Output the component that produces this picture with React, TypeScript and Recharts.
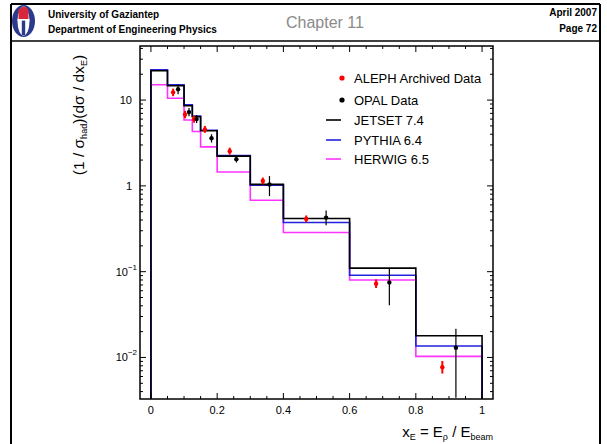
import React from "react";
import { ComposedChart, Line, Scatter, ErrorBar, XAxis, YAxis } from "recharts";

// histogram bin edges (x_E) and bin contents per generator
const EDGES = [0, 0.05, 0.1, 0.125, 0.15, 0.2, 0.3, 0.4, 0.6, 0.8, 1.0];
const JETSET = [22, 14.7, 8.6, 6.4, 4.4, 2.22, 1.04, 0.417, 0.11, 0.0179];
const PYTHIA = [22.5, 15.1, 8.8, 6.5, 4.45, 2.25, 1.02, 0.374, 0.0908, 0.0136];
const HERWIG = [15.1, 10.5, 5.85, 4.3, 2.85, 1.45, 0.68, 0.286, 0.08, 0.0103];

// measured points
const ALEPH_X = [0.067, 0.103, 0.13, 0.163, 0.238, 0.338, 0.469, 0.68, 0.88];
const ALEPH_Y = [12.3, 6.8, 6.0, 4.55, 2.54, 1.14, 0.412, 0.0724, 0.0077];
const ALEPH_ERR = [[1.2, 1.3], [0.65, 0.7], [0.55, 0.6], [0.4, 0.45], [0.22, 0.25], [0.1, 0.11], [0.035, 0.04], [0.008, 0.009], [0.0012, 0.0014]];

const OPAL_X = [0.082, 0.115, 0.138, 0.183, 0.258, 0.358, 0.529, 0.72, 0.921];
const OPAL_Y = [13.4, 7.24, 6.0, 3.6, 2.05, 1.04, 0.427, 0.075, 0.013];
const OPAL_ERR = [[1.7, 1.9], [0.74, 0.86], [0.6, 0.7], [0.4, 0.4], [0.18, 0.2], [0.28, 0.26], [0.079, 0.089], [0.0345, 0.033], [0.0096, 0.0086]];

// axes
const X_DOMAIN = [-0.033, 1.033];
const Y_DOMAIN = [0.00328, 42.7];
const X_TICKS = [0, 0.05, 0.1, 0.15, 0.2, 0.25, 0.3, 0.35, 0.4, 0.45, 0.5, 0.55, 0.6, 0.65, 0.7, 0.75, 0.8, 0.85, 0.9, 0.95, 1];
const X_MAJOR = [0, 0.2, 0.4, 0.6, 0.8, 1];
const X_LABELS = ["0", "0.2", "0.4", "0.6", "0.8", "1"];
const Y_MAJOR = [0.01, 0.1, 1, 10];
const Y_LABELS: [string, string][] = [["10", "\u22122"], ["10", "\u22121"], ["1", ""], ["10", ""]];

const Y_TICKS: number[] = [];
[0.001, 0.01, 0.1, 1, 10].forEach((d) => {
  for (let m = 1; m < 10; m++) {
    const v = +(d * m).toPrecision(3);
    if (v >= Y_DOMAIN[0] && v <= Y_DOMAIN[1]) Y_TICKS.push(v);
  }
});

const PLOT = { left: 140, top: 46, right: 493, bottom: 399 };
const FONT = "'Liberation Sans', Arial, sans-serif";

const histo = (vals: number[]) => {
  const pts = [{ x: EDGES[0], y: Y_DOMAIN[0] }];
  vals.forEach((v, i) => pts.push({ x: EDGES[i], y: v }));
  pts.push({ x: EDGES[EDGES.length - 1], y: vals[vals.length - 1] });
  pts.push({ x: EDGES[EDGES.length - 1], y: Y_DOMAIN[0] });
  return pts;
};

const points = (xs: number[], ys: number[], errs: number[][]) =>
  xs.map((x, i) => ({ x, y: ys[i], err: errs[i] }));

const SERIES = [
  { name: "HERWIG 6.5", vals: HERWIG, color: "#ff33ff" },
  { name: "PYTHIA 6.4", vals: PYTHIA, color: "#2222dd" },
  { name: "JETSET 7.4", vals: JETSET, color: "#000000" },
];

const XTick = ({ x, payload }: any) => {
  const v = payload.value;
  const idx = X_MAJOR.findIndex((m) => Math.abs(m - v) < 1e-6);
  const len = idx >= 0 ? 6 : 3;
  return (
    <g>
      <line x1={x} x2={x} y1={PLOT.bottom} y2={PLOT.bottom - len} stroke="#000" />
      <line x1={x} x2={x} y1={PLOT.top} y2={PLOT.top + len} stroke="#000" />
      {idx >= 0 && (
        <text x={x} y={PLOT.bottom + 15} textAnchor="middle" fontSize={11} fontFamily={FONT} fill="#000">
          {X_LABELS[idx]}
        </text>
      )}
    </g>
  );
};

const YTick = ({ y, payload }: any) => {
  const v = payload.value;
  const idx = Y_MAJOR.findIndex((m) => Math.abs(m - v) / m < 1e-6);
  const len = idx >= 0 ? 6 : 3;
  const lab = idx >= 0 ? Y_LABELS[idx] : null;
  return (
    <g>
      <line x1={PLOT.left} x2={PLOT.left + len} y1={y} y2={y} stroke="#000" />
      <line x1={PLOT.right} x2={PLOT.right - len} y1={y} y2={y} stroke="#000" />
      {lab && (
        <text x={lab[1] ? 137 : 132} y={y + 4} textAnchor="end" fontSize={11} fontFamily={FONT} fill="#000">
          {lab[0]}
          {lab[1] && <tspan dy={-6} fontSize={8}>{lab[1]}</tspan>}
        </text>
      )}
    </g>
  );
};

const dot = (color: string) => (p: any) => <circle cx={p.cx} cy={p.cy} r={2.2} fill={color} />;

const Logo = () => (
  <g>
    <ellipse cx={23.5} cy={21} rx={11.5} ry={16} fill="#2b3a8c" />
    <ellipse cx={23.5} cy={21} rx={6} ry={14.5} fill="#fff" />
    <path d="M18.5 10 Q23.5 3 28.5 10 L28.5 19 L18.5 19 Z" fill="#d6283a" />
    <rect x={21.8} y={20} width={3.4} height={15} fill="#2b3a8c" />
    <rect x={17.5} y={19} width={12} height={1.6} fill="#fff" />
  </g>
);

const LEG_ROWS = [
  { kind: "dot", color: "#ff0000", text: "ALEPH Archived Data", y: 78 },
  { kind: "dot", color: "#000000", text: "OPAL Data", y: 100 },
  { kind: "line", color: "#000000", text: "JETSET 7.4", y: 120 },
  { kind: "line", color: "#2222dd", text: "PYTHIA 6.4", y: 140 },
  { kind: "line", color: "#ff33ff", text: "HERWIG 6.5", y: 159 },
];

export default function App() {
  return (
    <div style={{ position: "absolute", left: 0, top: 0, width: 607, height: 444, background: "#fff" }}>
      <ComposedChart width={607} height={444} margin={{ top: PLOT.top, right: 607 - PLOT.right, bottom: 0, left: 0 }}>
        <XAxis
          type="number"
          dataKey="x"
          domain={X_DOMAIN}
          allowDataOverflow
          ticks={X_TICKS}
          interval={0}
          height={444 - PLOT.bottom}
          axisLine={false}
          tickLine={false}
          tick={<XTick />}
        />
        <YAxis
          type="number"
          dataKey="y"
          scale="log"
          domain={Y_DOMAIN}
          allowDataOverflow
          ticks={Y_TICKS}
          interval={0}
          width={PLOT.left}
          axisLine={false}
          tickLine={false}
          tick={<YTick />}
        />
        {SERIES.map((s) => (
          <Line
            key={s.name}
            data={histo(s.vals)}
            dataKey="y"
            type="stepAfter"
            stroke={s.color}
            strokeWidth={1.6}
            dot={false}
            activeDot={false}
            isAnimationActive={false}
          />
        ))}
        <Scatter data={points(ALEPH_X, ALEPH_Y, ALEPH_ERR)} dataKey="y" shape={dot("#ff0000")} isAnimationActive={false}>
          <ErrorBar dataKey="err" direction="y" width={0} stroke="#ff0000" strokeWidth={2} isAnimationActive={false} />
        </Scatter>
        <Scatter data={points(OPAL_X, OPAL_Y, OPAL_ERR)} dataKey="y" shape={dot("#000000")} isAnimationActive={false}>
          <ErrorBar dataKey="err" direction="y" width={0} stroke="#000000" strokeWidth={1.2} isAnimationActive={false} />
        </Scatter>
      </ComposedChart>

      <svg width={607} height={444} style={{ position: "absolute", left: 0, top: 0, pointerEvents: "none" }}>
        {/* slide frame and header */}
        <line x1={11} x2={11} y1={4} y2={444} stroke="#000" strokeWidth={2} />
        <line x1={600} x2={600} y1={4} y2={444} stroke="#000" strokeWidth={2} />
        <line x1={11} x2={600} y1={4} y2={4} stroke="#000" strokeWidth={2} />
        <line x1={11} x2={600} y1={41} y2={41} stroke="#000" strokeWidth={1.5} />
        <Logo />
        <text x={48} y={18} fontSize={10} fontWeight="bold" fontFamily={FONT}>University of Gaziantep</text>
        <text x={48} y={33} fontSize={10} fontWeight="bold" fontFamily={FONT}>Department of Engineering Physics</text>
        <text x={325} y={28} fontSize={16} textAnchor="middle" fill="#8a8a8a" fontFamily={FONT}>Chapter 11</text>
        <text x={597} y={16} fontSize={10} fontWeight="bold" textAnchor="end" fontFamily={FONT}>April 2007</text>
        <text x={597} y={32} fontSize={10} fontWeight="bold" textAnchor="end" fontFamily={FONT}>Page 72</text>

        {/* plot frame */}
        <rect x={PLOT.left} y={PLOT.top} width={PLOT.right - PLOT.left} height={PLOT.bottom - PLOT.top} fill="none" stroke="#000" strokeWidth={1.5} />

        {/* legend */}
        {LEG_ROWS.map((r) => (
          <g key={r.text}>
            {r.kind === "dot" ? (
              <circle cx={342} cy={r.y} r={2.6} fill={r.color} />
            ) : (
              <line x1={326} x2={341} y1={r.y} y2={r.y} stroke={r.color} strokeWidth={1.6} />
            )}
            <text x={354} y={r.y + 4.5} fontSize={13} fontFamily={FONT}>{r.text}</text>
          </g>
        ))}

        {/* axis titles */}
        <text transform="translate(84,115) rotate(-90)" textAnchor="middle" fontSize={15.5} fontFamily={FONT}>
          (1 / σ<tspan fontSize={9} dy={3}>had</tspan>
          <tspan dy={-3}>)(dσ / dx</tspan>
          <tspan fontSize={9} dy={3}>E</tspan>
          <tspan dy={-3}>)</tspan>
        </text>
        <text x={493} y={437} textAnchor="end" fontSize={15} fontFamily={FONT}>
          x<tspan fontSize={9} dy={3}>E</tspan>
          <tspan dy={-3}> = E</tspan>
          <tspan fontSize={9} dy={3}>ρ</tspan>
          <tspan dy={-3}> / E</tspan>
          <tspan fontSize={9} dy={3}>beam</tspan>
        </text>
      </svg>
    </div>
  );
}
